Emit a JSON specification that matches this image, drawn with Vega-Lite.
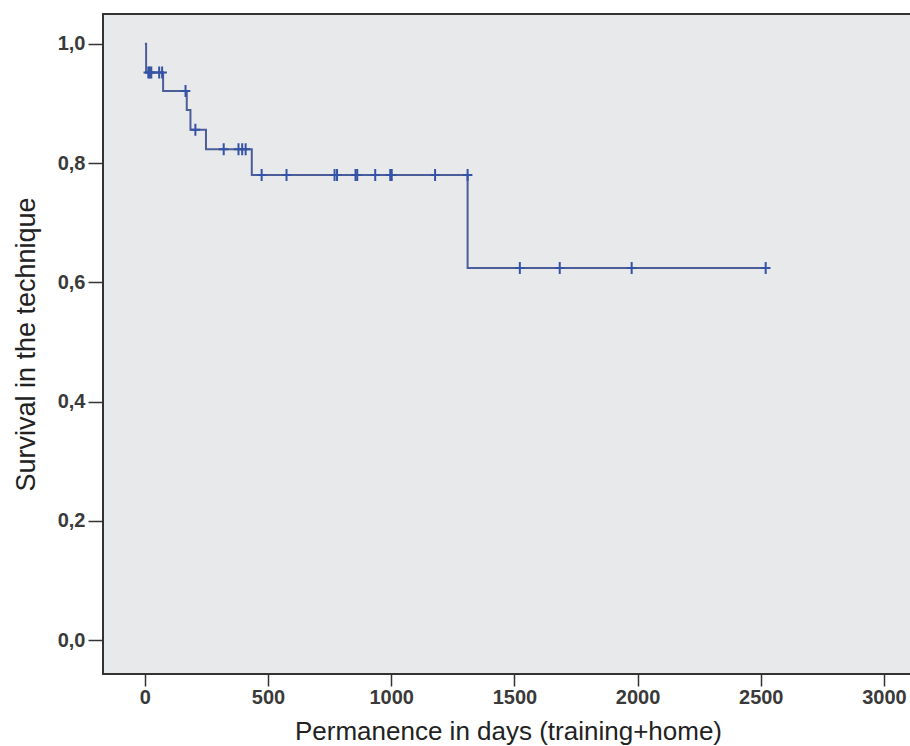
{
  "$schema": "https://vega.github.io/schema/vega-lite/v6.json",
  "autosize": "none",
  "padding": {"left": 103, "top": 14, "right": 0, "bottom": 72},
  "width": 810,
  "height": 660,
  "background": "#ffffff",
  "config": {
    "view": {"stroke": "#333333", "strokeWidth": 2, "fill": "#e8e9eb"},
    "axis": {"grid": false, "domain": false, "labelFont": "Liberation Sans", "titleFont": "Liberation Sans", "labelColor": "#3a3a3a", "titleColor": "#222222", "tickColor": "#333333", "tickWidth": 1.5}
  },
  "datasets": {
    "curve": [
      {"day": 0, "surv": 1.0},
      {"day": 5, "surv": 0.952},
      {"day": 74, "surv": 0.921},
      {"day": 170, "surv": 0.889},
      {"day": 185, "surv": 0.856},
      {"day": 248, "surv": 0.823},
      {"day": 434, "surv": 0.78},
      {"day": 1310, "surv": 0.624},
      {"day": 2520, "surv": 0.624}
    ],
    "censored": [
      {"day": 14, "surv": 0.952},
      {"day": 20, "surv": 0.952},
      {"day": 26, "surv": 0.952},
      {"day": 58, "surv": 0.952},
      {"day": 70, "surv": 0.952},
      {"day": 165, "surv": 0.921},
      {"day": 205, "surv": 0.856},
      {"day": 320, "surv": 0.823},
      {"day": 380, "surv": 0.823},
      {"day": 395, "surv": 0.823},
      {"day": 409, "surv": 0.823},
      {"day": 474, "surv": 0.78},
      {"day": 575, "surv": 0.78},
      {"day": 770, "surv": 0.78},
      {"day": 780, "surv": 0.78},
      {"day": 855, "surv": 0.78},
      {"day": 862, "surv": 0.78},
      {"day": 935, "surv": 0.78},
      {"day": 996, "surv": 0.78},
      {"day": 1002, "surv": 0.78},
      {"day": 1178, "surv": 0.78},
      {"day": 1310, "surv": 0.78},
      {"day": 1522, "surv": 0.624},
      {"day": 1684, "surv": 0.624},
      {"day": 1976, "surv": 0.624},
      {"day": 2520, "surv": 0.624}
    ]
  },
  "encoding": {
    "x": {
      "field": "day", "type": "quantitative",
      "scale": {"domain": [-170, 3118], "nice": false, "zero": false},
      "axis": {"values": [0, 500, 1000, 1500, 2000, 2500, 3000], "format": "d", "tickSize": 12, "labelPadding": 1, "labelFontSize": 20, "labelFontWeight": "bold", "title": "Permanence in days (training+home)", "titleFontSize": 26, "titleFontWeight": "normal", "titlePadding": 11}
    },
    "y": {
      "field": "surv", "type": "quantitative",
      "scale": {"domain": [-0.057, 1.05], "nice": false, "zero": false},
      "axis": {"values": [0, 0.2, 0.4, 0.6, 0.8, 1.0], "labelExpr": "replace(format(datum.value, '.1f'), '.', ',')", "tickSize": 15, "labelPadding": 3, "labelFontSize": 20, "labelFontWeight": "bold", "title": "Survival in the technique", "titleFontSize": 27, "titleFontWeight": "normal", "titlePadding": 17}
    }
  },
  "layer": [
    {
      "data": {"name": "curve"},
      "mark": {"type": "line", "interpolate": "step-after", "color": "#4b5e99", "strokeWidth": 2}
    },
    {
      "data": {"name": "censored"},
      "mark": {"type": "point", "shape": "M0,-1V1M-0.8,0H0.8", "size": 144, "filled": false, "stroke": "#3553a5", "strokeWidth": 2, "opacity": 1}
    }
  ]
}
